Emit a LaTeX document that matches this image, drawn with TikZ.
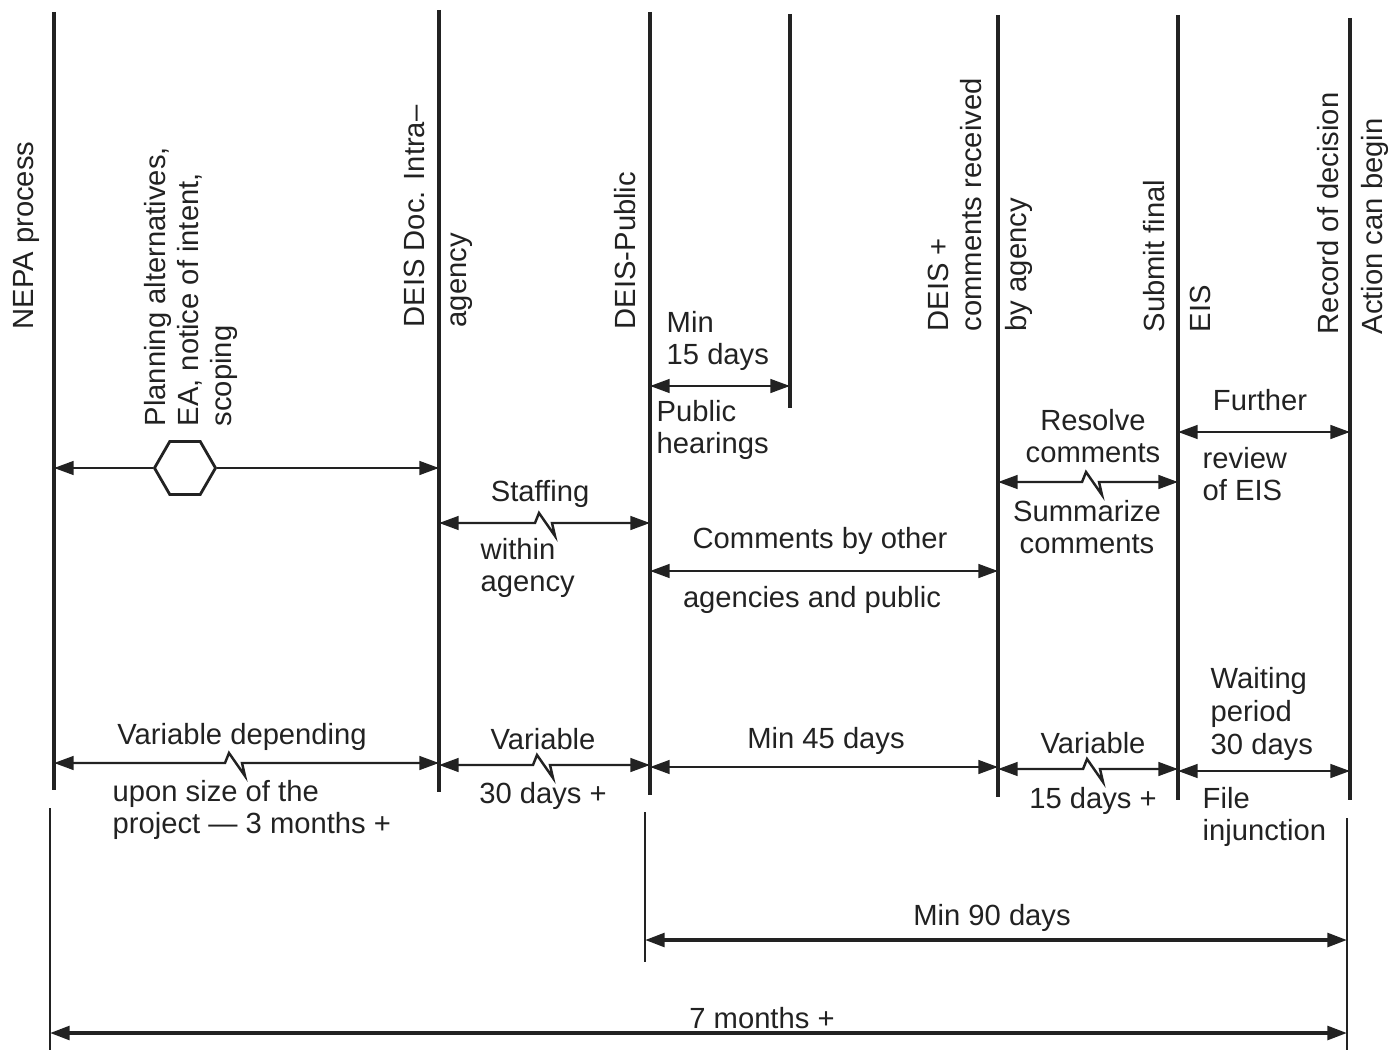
\documentclass[tikz,border=0pt]{standalone}
\usepackage{fontspec}
\setmainfont{Liberation Sans}
\usetikzlibrary{arrows.meta, shapes.geometric}
\definecolor{ink}{HTML}{222222}

\tikzset{
  stage/.style={ink, line width=1.4pt},
  guide/.style={ink, line width=0.6pt},
  span/.style={ink, line width=0.7pt, <->},
  total/.style={span, line width=1pt},
  hexa/.style={draw=ink, line width=0.8pt, regular polygon, regular polygon sides=6, minimum size=0.61cm, inner sep=0pt},
  lbl/.style={ink, inner sep=0pt, align=center, font=\fontsize{8.3}{9.3}\selectfont},
  llbl/.style={lbl, align=left, anchor=west},
  vlbl/.style={lbl, rotate=90, anchor=west, align=left},
}

\begin{document}
\begin{tikzpicture}[x=0.01cm, y=-0.01cm, >={Triangle[length=5.6pt,width=3.9pt]}]
\useasboundingbox (0,0) rectangle (1395,1055);

% milestone lines
\coordinate (nepa) at (54,12);      \coordinate (nepa-b) at (54,790);
\coordinate (intra) at (439,10);    \coordinate (intra-b) at (439,792);
\coordinate (public) at (650,12);   \coordinate (public-b) at (650,795);
\coordinate (hear) at (790,14);     \coordinate (hear-b) at (790,408);
\coordinate (recv) at (998,15);     \coordinate (recv-b) at (998,797);
\coordinate (final) at (1178,15);   \coordinate (final-b) at (1178,800);
\coordinate (action) at (1350,18);  \coordinate (action-b) at (1350,800);
\foreach \s in {nepa,intra,public,hear,recv,final,action}
  \draw[stage] (\s) -- (\s-b);

% lower guide lines
\coordinate (start) at (50,808);    \coordinate (start-b) at (50,1050);
\coordinate (draft) at (645,812);   \coordinate (draft-b) at (645,962);
\coordinate (done) at (1347,818);   \coordinate (done-b) at (1347,1050);
\foreach \s in {start,draft,done}
  \draw[guide] (\s) -- (\s-b);

% milestone labels
\node[vlbl] (nepa-t) at (26,330) {NEPA process};
\node[vlbl] (plan-t) at (191,427) {Planning alternatives,\\EA, notice of intent,\\scoping};
\node[vlbl] (intra-t) at (414,328) {DEIS Doc. Intra–};
\node[vlbl] (intra-t2) at (462,328) {agency};
\node[vlbl] (public-t) at (625,330) {DEIS-Public};
\node[vlbl] (recv-t) at (955,332) {DEIS +\\comments received};
\node[vlbl] (recv-t2) at (1019,332) {by agency};
\node[vlbl] (final-t) at (1154,333) {Submit final};
\node[vlbl] (final-t2) at (1200,333) {EIS};
\node[vlbl] (action-t) at (1328,335) {Record of decision};
\node[vlbl] (action-t2) at (1375,335) {Action can begin};

% upper spans
\node[hexa] (hex) at (185,468) {};
\draw[span, <-] (nepa |- hex) -- (hex);
\draw[span, ->] (hex) -- (intra |- hex);

\node[llbl] (min15) at (666,341) {Min\\15 days};
\draw[span] (public |- 0,386) -- (hear |- 0,386);
\node[llbl] (hearing) at (656,430) {Public\\hearings};

\node[lbl] (staff) at (540,494) {Staffing};
\draw[span] (intra |- 0,523) -- ++(96,0) -- ++(4,-10) -- ++(16,23) -- ++(-3,-13) -- (public |- 0,523);
\node[llbl] (within) at (480,568) {within\\agency};

\node[lbl] (other) at (820,541) {Comments by other};
\draw[span] (public |- 0,571) -- (recv |- 0,571);
\node[lbl] (public2) at (812,600) {agencies and public};

\node[lbl] (resolve) at (1093,436) {Resolve\\comments};
\draw[span] (recv |- 0,482) -- ++(84,0) -- ++(4,-10) -- ++(16,23) -- ++(-3,-13) -- (final |- 0,482);
\node[lbl] (summ) at (1087,527) {Summarize\\comments};

\node[lbl] (further) at (1260,400) {Further};
\draw[span] (final |- 0,432) -- (action |- 0,432);
\node[llbl] (review) at (1202,474) {review\\of EIS};

% duration row
\node[lbl] (var1) at (242,737) {Variable depending};
\draw[span] (nepa |- 0,763) -- ++(171,0) -- ++(4,-10) -- ++(16,23) -- ++(-3,-13) -- (intra |- 0,763);
\node[llbl] (var1b) at (112,810) {upon size of the\\project — 3 months +};

\node[lbl] (var2) at (543,739) {Variable};
\draw[span] (intra |- 0,765) -- ++(94,0) -- ++(4,-10) -- ++(16,23) -- ++(-3,-13) -- (public |- 0,765);
\node[lbl] (var2b) at (543,796) {30 days +};

\node[lbl] (min45) at (826,741) {Min 45 days};
\draw[span] (public |- 0,767) -- (recv |- 0,767);

\node[lbl] (var3) at (1093,743) {Variable};
\draw[span] (recv |- 0,769) -- ++(85,0) -- ++(4,-10) -- ++(16,23) -- ++(-3,-13) -- (final |- 0,769);
\node[lbl] (var3b) at (1093,801) {15 days +};

\node[llbl] (wait) at (1210,714) {Waiting\\period\\30 days};
\draw[span] (final |- 0,771) -- (action |- 0,771);
\node[llbl] (inj) at (1202,817) {File\\injunction};

% totals
\node[lbl] (min90) at (992,918) {Min 90 days};
\draw[total] (draft |- 0,940) -- (done |- 0,940);
\node[lbl] (months) at (762,1018) {7 months +};
\draw[total] (start |- 0,1033) -- (done |- 0,1033);
\end{tikzpicture}
\end{document}
